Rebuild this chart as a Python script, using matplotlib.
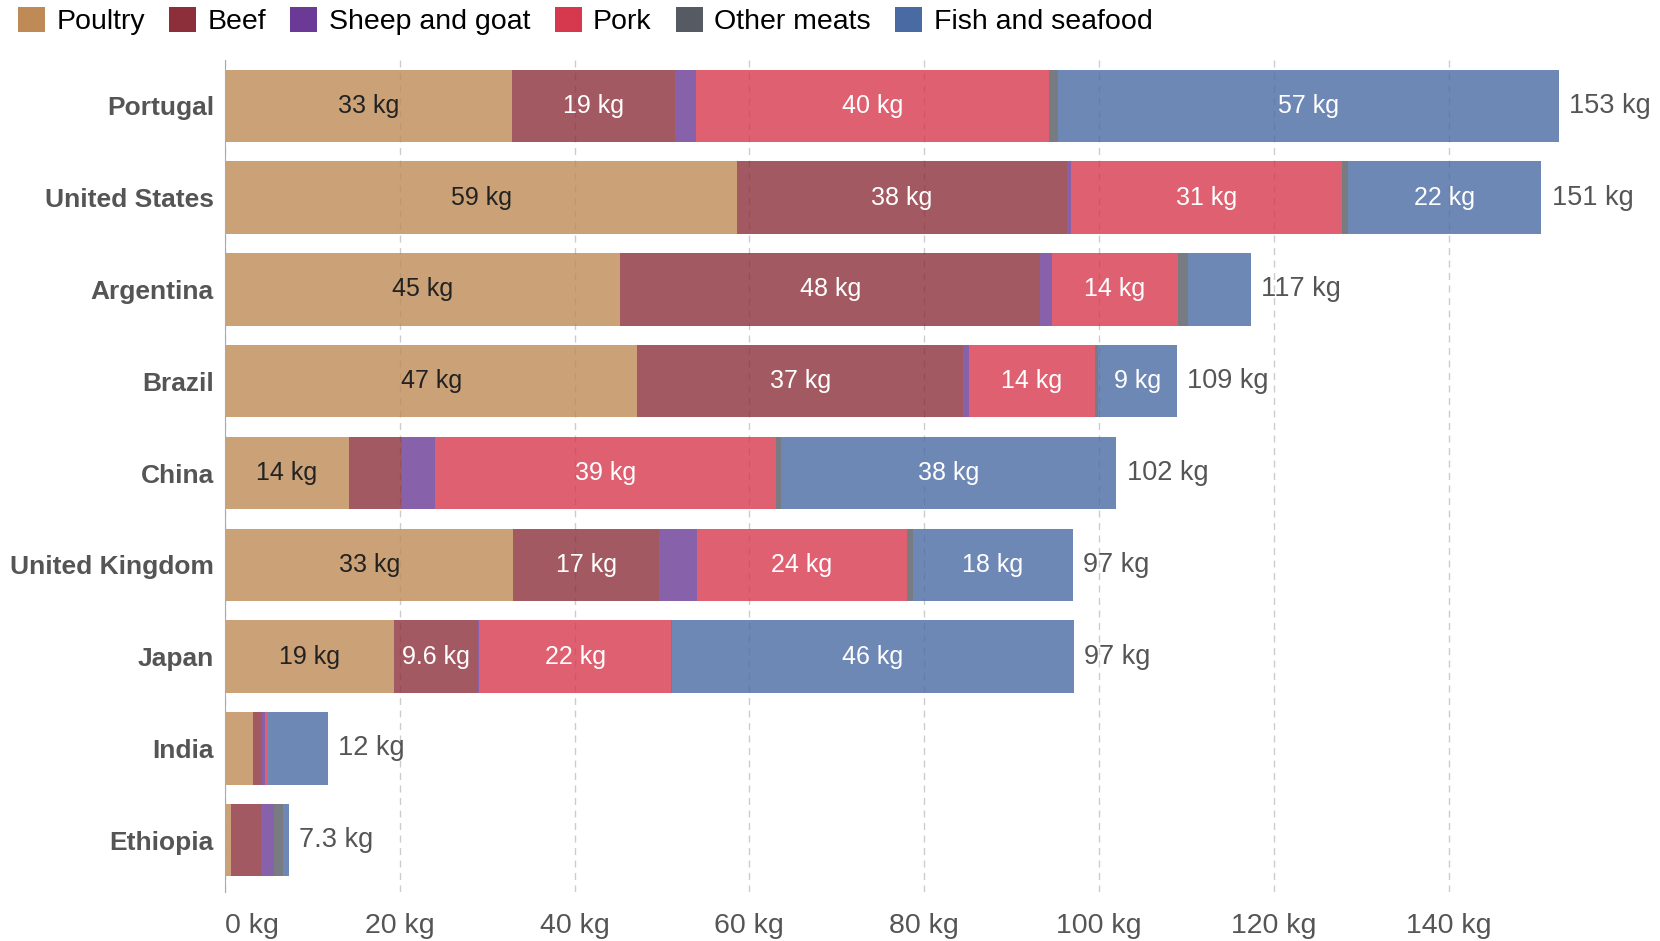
import matplotlib
matplotlib.use("Agg")
import matplotlib.pyplot as plt
from matplotlib.patches import Patch

countries = ["Portugal", "United States", "Argentina", "Brazil", "China",
             "United Kingdom", "Japan", "India", "Ethiopia"]
series = ["Poultry", "Beef", "Sheep and goat", "Pork", "Other meats", "Fish and seafood"]
poultry = [32.8, 58.6, 45.2, 47.2, 14.2, 33.0, 19.3, 3.2, 0.7]
beef = [18.7, 37.7, 48.1, 37.3, 6.1, 16.7, 9.6, 1.0, 3.4]
sheep = [2.4, 0.5, 1.3, 0.6, 3.7, 4.3, 0.2, 0.4, 1.5]
pork = [40.4, 31.0, 14.4, 14.4, 39.1, 24.0, 21.9, 0.3, 0.05]
other = [1.0, 0.7, 1.2, 0.4, 0.5, 0.7, 0.1, 0.05, 0.95]
fish = [57.3, 22.1, 7.2, 9.0, 38.4, 18.3, 46.0, 6.8, 0.7]

colors = ["#BF8A55", "#8C2F3A", "#6B3A96", "#D6384E", "#565A62", "#4A6AA3"]
label_colors = ["#222222", "white", "white", "white", "white", "white"]
grey = "#555555"
font = "Liberation Sans"


def fmt(v):
    if v >= 10:
        return f"{v:.0f} kg"
    return f"{v:.2g} kg"


fig = plt.figure(figsize=(16.6, 9.41), dpi=100)
ax = fig.add_axes([225 / 1660, 49 / 941, 1435 / 1660, 832 / 941])

values = [poultry, beef, sheep, pork, other, fish]
ypos = list(range(len(countries)))
left = [0.0] * len(countries)
for name, vals, col, lc in zip(series, values, colors, label_colors):
    ax.barh(ypos, vals, left=left, height=0.79, color=col, alpha=0.8,
            linewidth=0, zorder=2)
    for i, v in enumerate(vals):
        if v >= 8:
            ax.text(left[i] + v / 2, i, fmt(v), ha="center", va="center",
                    color=lc, fontsize=18, family=font, zorder=3)
    left = [l + v for l, v in zip(left, vals)]

for i, tot in enumerate(left):
    ax.text(tot + 1.2, i, fmt(tot), ha="left", va="center", color=grey,
            fontsize=19.5, family=font, clip_on=False)

ax.set_xlim(0, 164.2)
ax.set_ylim(len(countries) - 0.5 + 0.065, -0.5)
ax.set_xticks(range(0, 160, 20))
ax.set_xticklabels([f"{t} kg" for t in range(0, 160, 20)], family=font,
                   fontsize=20.5, color=grey)
ax.get_xticklabels()[0].set_horizontalalignment("left")
ax.set_yticks(ypos)
ax.set_yticklabels(countries, family=font, fontsize=19, fontweight="bold",
                   color=grey)
ax.tick_params(axis="both", length=0)
ax.tick_params(axis="x", pad=15)
ax.tick_params(axis="y", pad=8)
for s in ["top", "right", "bottom"]:
    ax.spines[s].set_visible(False)
ax.spines["left"].set_color("#aaaaaa")
ax.grid(axis="x", linestyle=(0, (5, 4)), color="#cccccc", linewidth=1, zorder=0)
ax.set_axisbelow(True)

handles = [Patch(facecolor=c, edgecolor="none") for c in colors]
fig.legend(handles, series, loc="upper left", bbox_to_anchor=(0.0065, 1.0),
           borderaxespad=0.1, borderpad=0.15, ncol=6, frameon=False,
           handlelength=0.95, handleheight=0.95, handletextpad=0.4,
           columnspacing=0.85, prop={"family": font, "size": 20.5})

fig.savefig("out.png", dpi=100, facecolor="white")
